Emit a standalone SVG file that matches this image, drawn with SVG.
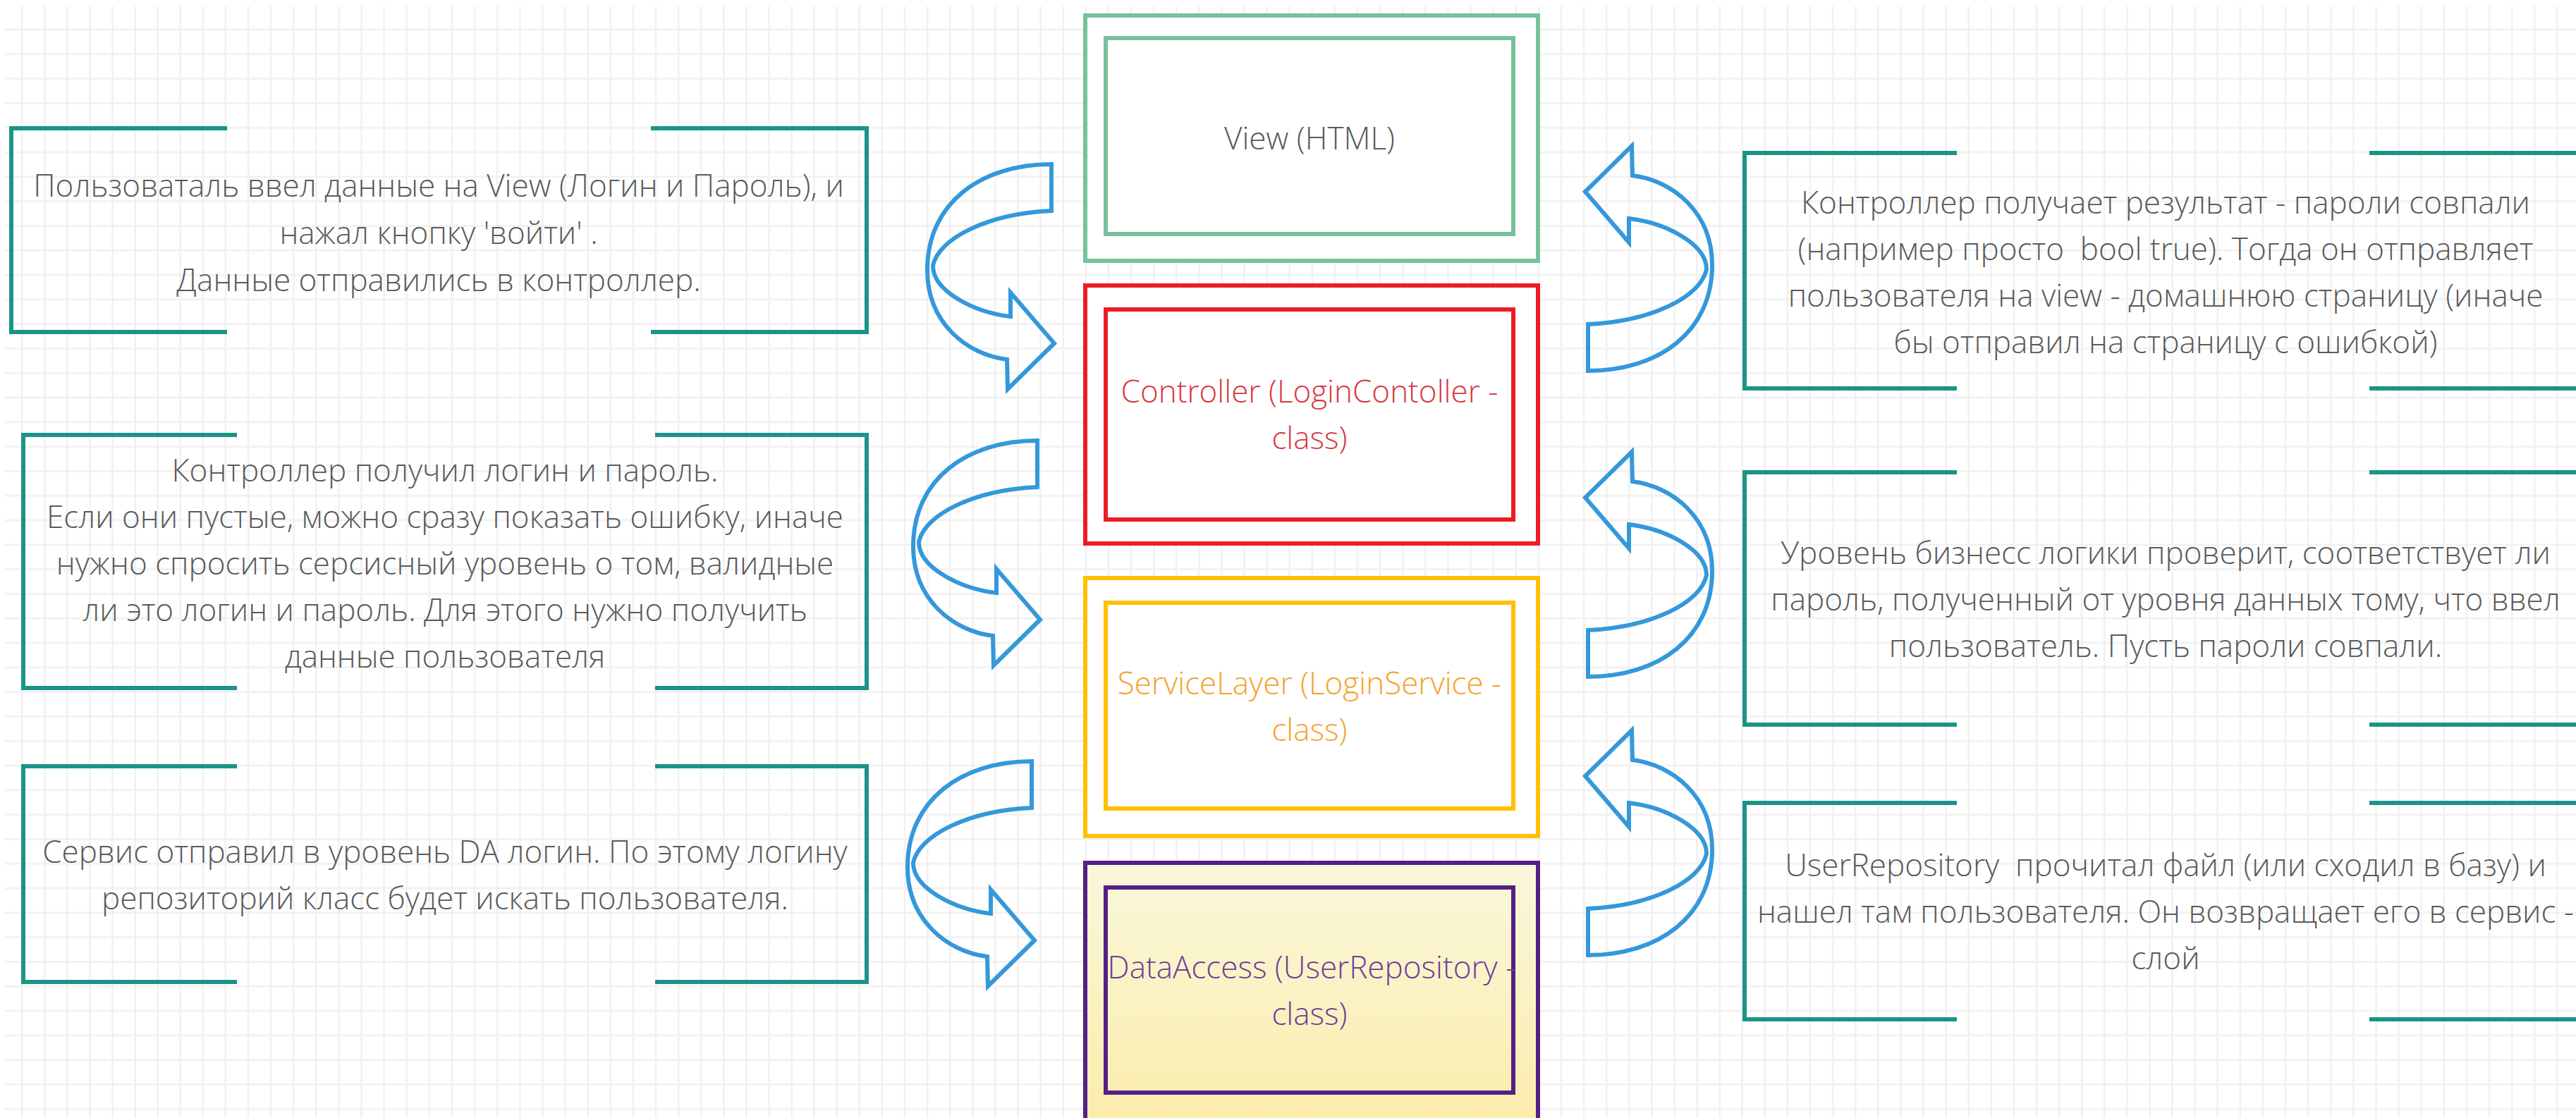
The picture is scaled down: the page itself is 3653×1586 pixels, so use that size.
<svg xmlns="http://www.w3.org/2000/svg" xmlns:xlink="http://www.w3.org/1999/xlink" width="3653" height="1586" viewBox="0 0 3653 1586">
<defs>
<style>
.t{font-family:"Open Sans","Liberation Sans",sans-serif;font-size:44px;font-weight:300;fill:#5a5a5a;text-anchor:middle;white-space:pre}
.br{fill:none;stroke:#1b9488;stroke-width:6}
.arr{fill:none;stroke:#3498db;stroke-width:6;stroke-linejoin:miter}
.box{stroke-width:6}
</style>
<pattern id="grid" patternUnits="userSpaceOnUse" x="15" y="24.6" width="32.1" height="34.8">
<rect x="14.8" y="0" width="2.6" height="34.8" fill="#f1f1f1"/>
<rect x="0" y="16.1" width="32.1" height="2.6" fill="#f1f1f1"/>
</pattern>
<linearGradient id="daFill" x1="0" y1="0" x2="0" y2="1">
<stop offset="0" stop-color="#f9f8dc"/>
<stop offset="1" stop-color="#fcecaa"/>
</linearGradient>
<path id="curvedArrow" d="M0 0 C-100 0 -176 55 -176 150 C-176 225 -120 270 -63 277 L-62 319 L4 254 L-58 182 L-58 216 C-110 210 -168 180 -168 144 C-160 105 -90 70 0 66 Z"/>
</defs>
<rect width="3653" height="1586" fill="#ffffff"/>
<rect x="7" y="9" width="3646" height="1577" fill="url(#grid)"/>

<g id="view">
<rect class="box" x="1539" y="22" width="642" height="348" fill="#ffffff" stroke="#77c29b"/>
<rect class="box" x="1568" y="54" width="578" height="278" fill="#ffffff" stroke="#77c29b"/>
<text class="t" x="1857" y="212">View (HTML)</text>
</g>

<g id="controller">
<rect class="box" x="1539" y="405" width="642" height="366" fill="#ffffff" stroke="#ed1c24"/>
<rect class="box" x="1568" y="439" width="578" height="298" fill="#ffffff" stroke="#ed1c24"/>
<text class="t" style="fill:#d9383e" x="1857" y="571">Controller (LoginContoller -</text>
<text class="t" style="fill:#d9383e" x="1857" y="637">class)</text>
</g>

<g id="service">
<rect class="box" x="1539" y="820" width="642" height="366" fill="#ffffff" stroke="#ffc000"/>
<rect class="box" x="1568" y="855" width="578" height="292" fill="#ffffff" stroke="#ffc000"/>
<text class="t" style="fill:#f4a32a" x="1857" y="985">ServiceLayer (LoginService -</text>
<text class="t" style="fill:#f4a32a" x="1857" y="1051">class)</text>
</g>

<g id="dataaccess">
<rect class="box" x="1539" y="1224" width="642" height="380" fill="url(#daFill)" stroke="#561f87"/>
<rect class="box" x="1568" y="1259" width="578" height="291" fill="none" stroke="#561f87"/>
<text class="t" style="fill:#6f3d99" x="1860" y="1388">DataAccess (UserRepository -</text>
<text class="t" style="fill:#6f3d99" x="1857" y="1454">class)</text>
</g>

<g id="note-l1">
<path class="br" d="M322 182 H16 V471 H322 M923 182 H1229 V471 H923"/>
<text class="t" x="622" y="279">Пользоваталь ввел данные на View (Логин и Пароль), и</text>
<text class="t" x="622" y="346">нажал кнопку 'войти' .</text>
<text class="t" x="622" y="413">Данные отправились в контроллер.</text>
</g>

<g id="note-l2">
<path class="br" d="M336 617 H33 V976 H336 M929 617 H1229 V976 H929"/>
<text class="t" x="631" y="683">Контроллер получил логин и пароль.</text>
<text class="t" x="631" y="749">Если они пустые, можно сразу показать ошибку, иначе</text>
<text class="t" x="631" y="815">нужно спросить серсисный уровень о том, валидные</text>
<text class="t" x="631" y="881">ли это логин и пароль. Для этого нужно получить</text>
<text class="t" x="631" y="947">данные пользователя</text>
</g>

<g id="note-l3">
<path class="br" d="M336 1087 H33 V1393 H336 M929 1087 H1229 V1393 H929"/>
<text class="t" x="631" y="1224">Сервис отправил в уровень DA логин. По этому логину</text>
<text class="t" x="631" y="1290">репозиторий класс будет искать пользователя.</text>
</g>

<g id="note-r1">
<path class="br" d="M2775 217 H2474 V551 H2775 M3360 217 H3668 V551 H3360"/>
<text class="t" x="3071" y="303">Контроллер получает результат - пароли совпали</text>
<text class="t" x="3071" y="369">(например просто  bool true). Тогда он отправляет</text>
<text class="t" x="3071" y="435">пользователя на view - домашнюю страницу (иначе</text>
<text class="t" x="3071" y="501">бы отправил на страницу с ошибкой)</text>
</g>

<g id="note-r2">
<path class="br" d="M2775 670 H2474 V1028 H2775 M3360 670 H3668 V1028 H3360"/>
<text class="t" x="3071" y="800">Уровень бизнесс логики проверит, соответствует ли</text>
<text class="t" x="3071" y="866">пароль, полученный от уровня данных тому, что ввел</text>
<text class="t" x="3071" y="932">пользователь. Пусть пароли совпали.</text>
</g>

<g id="note-r3">
<path class="br" d="M2775 1139 H2474 V1446 H2775 M3360 1139 H3668 V1446 H3360"/>
<text class="t" x="3071" y="1243">UserRepository  прочитал файл (или сходил в базу) и</text>
<text class="t" x="3071" y="1309">нашел там пользователя. Он возвращает его в сервис -</text>
<text class="t" x="3071" y="1375">слой</text>
</g>

<g id="connectors">
<use class="arr" href="#curvedArrow" xlink:href="#curvedArrow" transform="translate(1491,233)"/>
<use class="arr" href="#curvedArrow" xlink:href="#curvedArrow" transform="translate(1471,625)"/>
<use class="arr" href="#curvedArrow" xlink:href="#curvedArrow" transform="translate(1463,1080)"/>
<use class="arr" href="#curvedArrow" xlink:href="#curvedArrow" transform="translate(2252,526) rotate(180)"/>
<use class="arr" href="#curvedArrow" xlink:href="#curvedArrow" transform="translate(2252,960) rotate(180)"/>
<use class="arr" href="#curvedArrow" xlink:href="#curvedArrow" transform="translate(2252,1355) rotate(180)"/>
</g>
</svg>
